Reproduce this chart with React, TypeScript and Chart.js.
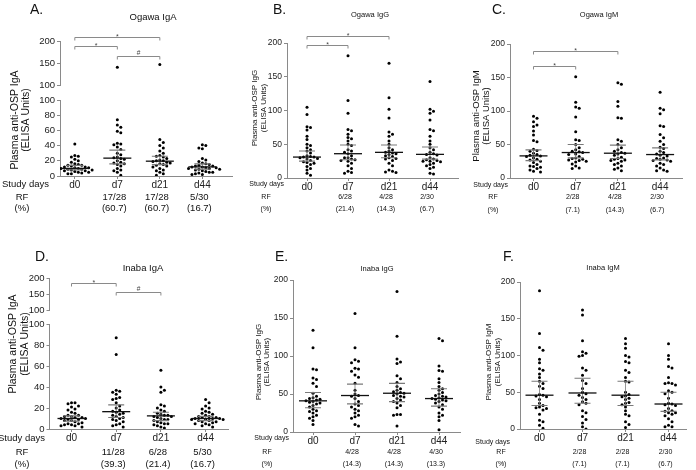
import React, { useEffect, useRef } from 'react';
import { Chart, registerables } from 'chart.js';
Chart.register(...registerables);

const FONT = "'Liberation Sans', Arial, Helvetica, sans-serif";
const categories = ['d0', 'd7', 'd21', 'd44'];

// ---- Ogawa IgA (A)
const ogawaIgA = [
  [42, 27, 26, 25, 22, 20, 18, 16, 15, 14, 14, 13, 12, 12, 11, 11, 10, 10, 9, 9, 8, 8, 7, 7, 6, 5, 5, 4, 3, 3],
  [141, 74, 67, 64, 59, 57, 43, 42, 41, 38, 35, 30, 28, 25, 24, 23, 22, 20, 18, 17, 16, 15, 13, 10, 8, 7, 5, 1],
  [147, 48, 44, 40, 37, 33, 30, 27, 26, 25, 23, 21, 20, 20, 19, 18, 17, 16, 15, 14, 13, 12, 10, 8, 7, 5, 3, 1],
  [41, 40, 37, 36, 23, 21, 19, 17, 16, 15, 14, 13, 13, 12, 12, 11, 11, 10, 10, 9, 9, 8, 7, 6, 5, 5, 4, 3, 2, 2],
];
const ogawaIgA_median = [10, 23.5, 19.5, 12];
const ogawaIgA_ci = [[8, 14], [16, 34], [15, 26], [9, 16]];
const ogawaIgA_rf = ['', '17/28', '17/28', '5/30'];
const ogawaIgA_pct = ['', '(60.7)', '(60.7)', '(16.7)'];

// ---- Ogawa IgG (B)
const ogawaIgG = [
  [105, 94, 76, 75, 71, 62, 57, 50, 48, 45, 42, 40, 37, 33, 32, 31, 31, 30, 29, 28, 26, 24, 23, 22, 20, 17, 14, 12, 7, 4],
  [181, 115, 96, 72, 70, 65, 60, 58, 55, 50, 48, 42, 40, 38, 36, 33, 30, 30, 28, 27, 26, 25, 22, 18, 14, 10, 8, 7],
  [170, 119, 102, 89, 68, 65, 62, 55, 50, 45, 42, 40, 38, 37, 36, 35, 33, 32, 30, 29, 28, 26, 22, 18, 12, 10, 9, 8],
  [143, 102, 99, 96, 86, 72, 70, 62, 55, 50, 45, 42, 38, 36, 35, 34, 30, 28, 27, 26, 25, 25, 24, 22, 20, 18, 16, 14, 7, 6],
];
const ogawaIgG_median = [31, 36, 38, 35];
const ogawaIgG_ci = [[25, 40], [27, 49], [30, 49], [28, 46]];
const ogawaIgG_rf = ['', '6/28', '4/28', '2/30'];
const ogawaIgG_pct = ['', '(21.4)', '(14.3)', '(6.7)'];

// ---- Ogawa IgM (C)
const ogawaIgM = [
  [92, 89, 84, 79, 77, 70, 64, 56, 54, 43, 41, 40, 37, 35, 34, 33, 32, 30, 28, 27, 25, 23, 20, 18, 17, 16, 14, 12, 10, 9],
  [151, 113, 106, 104, 91, 69, 57, 56, 50, 45, 42, 40, 39, 38, 36, 35, 32, 30, 29, 28, 27, 26, 25, 24, 21, 18, 15, 14],
  [142, 140, 114, 107, 90, 89, 57, 55, 50, 45, 42, 40, 38, 37, 36, 34, 31, 29, 28, 27, 26, 25, 22, 20, 18, 15, 13, 11],
  [128, 104, 102, 96, 78, 77, 65, 60, 55, 50, 46, 44, 40, 38, 36, 34, 33, 30, 29, 28, 27, 26, 25, 22, 20, 18, 15, 12, 11, 10],
];
const ogawaIgM_median = [33, 38, 37, 35];
const ogawaIgM_ci = [[26, 42], [30, 50], [29, 49], [27, 45]];
const ogawaIgM_rf = ['', '2/28', '4/28', '2/30'];
const ogawaIgM_pct = ['', '(7.1)', '(14.3)', '(6.7)'];

// ---- Inaba IgA (D)
const inabaIgA = [
  [25, 25, 24, 22, 21, 19, 18, 16, 15, 13, 13, 12, 12, 11, 11, 10, 10, 9, 9, 8, 8, 7, 6, 5, 5, 4, 4, 3, 3, 2],
  [87, 71, 37, 36, 35, 33, 30, 29, 28, 25, 22, 20, 18, 17, 16, 15, 14, 13, 12, 11, 10, 9, 8, 7, 5, 4, 3, 2],
  [56, 40, 37, 35, 23, 22, 20, 18, 17, 15, 14, 13, 13, 12, 12, 11, 10, 9, 9, 8, 7, 6, 5, 5, 4, 3, 2, 1],
  [28, 25, 22, 20, 19, 17, 16, 15, 14, 13, 12, 12, 11, 11, 10, 10, 10, 9, 9, 9, 8, 8, 7, 7, 6, 5, 5, 4, 3, 2],
];
const inabaIgA_median = [10, 16.5, 12.5, 10];
const inabaIgA_ci = [[7.5, 12.5], [11, 23], [8, 16], [8, 12]];
const inabaIgA_rf = ['', '11/28', '6/28', '5/30'];
const inabaIgA_pct = ['', '(39.3)', '(21.4)', '(16.7)'];

// ---- Inaba IgG (E)
const inabaIgG = [
  [134, 111, 83, 82, 71, 69, 64, 60, 51, 47, 45, 44, 43, 42, 41, 40, 39, 38, 37, 35, 33, 30, 28, 27, 25, 22, 20, 18, 15, 10],
  [156, 111, 95, 93, 91, 84, 83, 80, 75, 72, 64, 55, 50, 48, 47, 44, 40, 37, 35, 33, 30, 28, 25, 22, 20, 18, 10, 8],
  [185, 126, 96, 92, 90, 74, 70, 65, 60, 57, 55, 53, 52, 51, 50, 48, 47, 46, 44, 42, 40, 38, 35, 32, 23, 23, 22, 8],
  [123, 120, 87, 81, 80, 70, 65, 60, 57, 55, 52, 50, 48, 47, 46, 45, 44, 43, 42, 41, 40, 38, 36, 33, 30, 25, 22, 20, 15, 3],
];
const inabaIgG_median = [41, 48, 51, 44];
const inabaIgG_ci = [[32, 52], [37, 63], [40, 64], [34, 57]];
const inabaIgG_rf = ['', '4/28', '4/28', '4/30'];
const inabaIgG_pct = ['', '(14.3)', '(14.3)', '(13.3)'];

// ---- Inaba IgM (F)
const inabaIgM = [
  [188, 130, 111, 107, 95, 90, 82, 80, 75, 70, 65, 62, 58, 55, 47, 46, 45, 44, 40, 35, 32, 30, 29, 28, 26, 20, 12, 10, 5, 1],
  [162, 155, 120, 105, 103, 100, 99, 83, 80, 73, 66, 62, 55, 50, 48, 46, 43, 40, 37, 35, 33, 25, 22, 17, 13, 8, 3, 0],
  [123, 116, 110, 100, 98, 92, 90, 80, 77, 70, 65, 64, 50, 47, 45, 44, 42, 40, 36, 35, 33, 30, 25, 20, 18, 10, 6, 2],
  [116, 100, 95, 85, 83, 70, 63, 62, 62, 60, 52, 50, 48, 42, 35, 34, 33, 32, 28, 25, 24, 22, 22, 20, 18, 14, 10, 5, 3, 3],
];
const inabaIgM_median = [46, 49, 46, 34];
const inabaIgM_ci = [[32, 65], [35, 69], [32, 65], [24, 50]];
const inabaIgM_rf = ['', '2/28', '2/28', '2/30'];
const inabaIgM_pct = ['', '(7.1)', '(7.1)', '(6.7)'];

// significance brackets: [from, to, label, value on upper scale]
const ogawaIgA_brackets: [number, number, string, number][] = [[0, 2, '*', 210], [0, 1, '*', 189], [1, 2, '#', 167]];
const ogawaIgG_brackets: [number, number, string, number][] = [[0, 2, '*', 210], [0, 1, '*', 197]];
const ogawaIgM_brackets: [number, number, string, number][] = [[0, 2, '*', 190], [0, 1, '*', 167]];
const inabaIgA_brackets: [number, number, string, number][] = [[0, 1, '*', 184], [1, 2, '#', 156]];

const bigF = { tick: 9.5, cat: 10, rf: 9.5, title: 9.5, yt: 10.5 };
const smallF = { tick: 8.5, cat: 10, rf: 7, title: 7.5, yt: 8 };

interface Panel {
  box: number[];
  area: { l: number; r: number; t: number; b: number; bt?: number; bb?: number };
  x0: number; sp: number;
  broken: boolean;
  groups: number[][]; median: number[]; ci: number[][];
  brackets: [number, number, string, number][];
  rf: string[]; pct: string[];
  letter: string; letterPos: number[];
  title: string; titlePos: number[];
  yTitle: string; yTitlePos: number[];
  studyPos: number[]; rfPos: number[];
  f: typeof bigF;
}

const panels: Panel[] = [
  {
    box: [0, 0, 236, 235], area: { l: 60, r: 234, t: 41, b: 176, bt: 85.5, bb: 100 }, x0: 75, sp: 43, broken: true,
    groups: ogawaIgA, median: ogawaIgA_median, ci: ogawaIgA_ci, brackets: ogawaIgA_brackets, rf: ogawaIgA_rf, pct: ogawaIgA_pct,
    letter: 'A.', letterPos: [30, 10], title: 'Ogawa IgA', titlePos: [153, 17], yTitle: 'Plasma anti-OSP IgA', yTitlePos: [15, 26, 120],
    studyPos: [49, 184], rfPos: [22, 197, 208], f: bigF,
  },
  {
    box: [232, 0, 236, 235], area: { l: 287, r: 458, t: 43, b: 178 }, x0: 307, sp: 41, broken: false,
    groups: ogawaIgG, median: ogawaIgG_median, ci: ogawaIgG_ci, brackets: ogawaIgG_brackets, rf: ogawaIgG_rf, pct: ogawaIgG_pct,
    letter: 'B.', letterPos: [273, 10], title: 'Ogawa IgG', titlePos: [370, 15], yTitle: 'Plasma anti-OSP IgG', yTitlePos: [255, 264, 108],
    studyPos: [284, 184], rfPos: [266, 197, 209], f: smallF,
  },
  {
    box: [464, 0, 232, 235], area: { l: 510, r: 682, t: 44, b: 178 }, x0: 533.5, sp: 42.2, broken: false,
    groups: ogawaIgM, median: ogawaIgM_median, ci: ogawaIgM_ci, brackets: ogawaIgM_brackets, rf: ogawaIgM_rf, pct: ogawaIgM_pct,
    letter: 'C.', letterPos: [492, 10], title: 'Ogawa IgM', titlePos: [599, 15], yTitle: 'Plasma anti-OSP IgM', yTitlePos: [476, 486, 116],
    studyPos: [508, 185], rfPos: [493, 197, 210], f: { ...smallF, yt: 9.5 },
  },
  {
    box: [0, 235, 236, 235], area: { l: 49.5, r: 228, t: 278, b: 429, bt: 310, bb: 324 }, x0: 71.5, sp: 44.7, broken: true,
    groups: inabaIgA, median: inabaIgA_median, ci: inabaIgA_ci, brackets: inabaIgA_brackets, rf: inabaIgA_rf, pct: inabaIgA_pct,
    letter: 'D.', letterPos: [35, 257], title: 'Inaba IgA', titlePos: [143, 268], yTitle: 'Plasma anti-OSP IgA', yTitlePos: [13, 25, 344],
    studyPos: [45, 438], rfPos: [22, 452, 464], f: bigF,
  },
  {
    box: [232, 235, 236, 235], area: { l: 293, r: 460, t: 280, b: 432 }, x0: 313, sp: 42, broken: false,
    groups: inabaIgG, median: inabaIgG_median, ci: inabaIgG_ci, brackets: [], rf: inabaIgG_rf, pct: inabaIgG_pct,
    letter: 'E.', letterPos: [275, 257], title: 'Inaba IgG', titlePos: [377, 269], yTitle: 'Plasma anti-OSP IgG', yTitlePos: [259, 267, 362],
    studyPos: [289, 438], rfPos: [267, 452, 464], f: smallF,
  },
  {
    box: [464, 235, 232, 235], area: { l: 520, r: 686, t: 282, b: 429 }, x0: 539.5, sp: 43, broken: false,
    groups: inabaIgM, median: inabaIgM_median, ci: inabaIgM_ci, brackets: [], rf: inabaIgM_rf, pct: inabaIgM_pct,
    letter: 'F.', letterPos: [503, 257], title: 'Inaba IgM', titlePos: [603, 268], yTitle: 'Plasma anti-OSP IgM', yTitlePos: [489, 498, 362],
    studyPos: [510, 442], rfPos: [501, 452, 464], f: smallF,
  },
];

const Y_W = 30;
const X_H = 14;
const DOT = 3.5;

function valueToPx(p: Panel, v: number) {
  const a = p.area;
  if (p.broken) {
    if (v > 100) return a.t + ((200 - v) * ((a.bt as number) - a.t)) / 100;
    return a.b - (v * (a.b - (a.bb as number))) / 100;
  }
  return a.b - (v * (a.b - a.t)) / 200;
}

function swarm(p: Panel, values: number[]): number[] {
  const order = values.map((_, i) => i).sort((a, b) => values[b] - values[a]);
  const placed: { x: number; y: number }[] = [];
  const off = new Array(values.length).fill(0);
  for (const i of order) {
    const y = valueToPx(p, values[i]);
    for (let k = 0; k < 60; k++) {
      const cand = k === 0 ? 0 : (k % 2 === 1 ? 1 : -1) * Math.ceil(k / 2) * DOT;
      if (placed.every((q) => (q.x - cand) ** 2 + (q.y - y) ** 2 >= DOT * DOT * 0.92)) {
        off[i] = cand / p.sp;
        placed.push({ x: cand, y });
        break;
      }
    }
  }
  return off;
}

function makeChart(canvas: HTMLCanvasElement, p: Panel) {
  const [bx, by, bw, bh] = p.box;
  const a = p.area;
  const xMin = -(p.x0 - a.l) / p.sp;
  const xMax = (a.r - p.x0) / p.sp;
  const low: { x: number; y: number }[] = [];
  const high: { x: number; y: number }[] = [];
  p.groups.forEach((g, gi) => {
    const off = swarm(p, g);
    g.forEach((v, i) => {
      const pt = { x: gi + off[i], y: v };
      if (p.broken && v > 100) high.push(pt);
      else low.push(pt);
    });
  });
  const axisColor = '#8a8a8a';
  const fit = (s: any) => { s.width = Y_W; };
  const yCommon = (min: number, max: number, step: number) => ({
    type: 'linear' as const,
    position: 'left' as const,
    min, max,
    ticks: { stepSize: step, autoSkip: false, font: { family: FONT, size: p.f.tick }, color: '#222', padding: 2 },
    grid: { drawOnChartArea: false, drawTicks: true, tickLength: 3, color: axisColor },
    border: { color: axisColor, width: 1 },
    afterFit: fit,
  });
  const scales: any = {
    x: {
      type: 'linear', min: xMin, max: xMax,
      afterBuildTicks: (s: any) => { s.ticks = categories.map((_, i) => ({ value: i })); },
      ticks: { callback: (v: any) => categories[v] ?? '', font: { family: FONT, size: p.f.cat }, color: '#222', padding: 0, maxRotation: 0, autoSkip: false },
      grid: { drawOnChartArea: false, drawTicks: true, tickLength: 3, color: axisColor },
      border: { color: axisColor, width: 1 },
      afterFit: (s: any) => { s.height = X_H; },
    },
  };
  const datasets: any[] = [];
  if (p.broken) {
    scales.yBot = { ...yCommon(0, 100, 20), stack: 'brk', stackWeight: a.b - (a.bb as number) };
    scales.yGap = {
      type: 'linear', position: 'left', min: 0, max: 1, stack: 'brk', stackWeight: (a.bb as number) - (a.bt as number),
      ticks: { display: false }, grid: { display: false }, border: { display: false }, afterFit: fit,
    };
    scales.yTop = { ...yCommon(100, 200, 50), stack: 'brk', stackWeight: (a.bt as number) - a.t };
    datasets.push({ data: low, yAxisID: 'yBot' });
    datasets.push({ data: high, yAxisID: 'yTop' });
  } else {
    scales.y = yCommon(0, 200, 50);
    datasets.push({ data: low, yAxisID: 'y' });
  }
  datasets.forEach((d) => {
    d.pointRadius = 1.5; d.pointBackgroundColor = '#000'; d.pointBorderWidth = 0;
  });

  const yPix = (chart: any, v: number) => {
    if (p.broken) return v > 100 ? chart.scales.yTop.getPixelForValue(v) : chart.scales.yBot.getPixelForValue(v);
    return chart.scales.y.getPixelForValue(v);
  };
  const topScale = (chart: any) => (p.broken ? chart.scales.yTop : chart.scales.y);

  const annot = {
    id: 'annot',
    afterDatasetsDraw(chart: any) {
      const ctx = chart.ctx;
      const xs = chart.scales.x;
      ctx.save();
      p.median.forEach((m, i) => {
        const x = xs.getPixelForValue(i);
        const [lo, hi] = p.ci[i];
        const yl = yPix(chart, lo), yh = yPix(chart, hi), ym = yPix(chart, m);
        ctx.strokeStyle = '#7a7a7a';
        ctx.lineWidth = 0.8;
        ctx.beginPath(); ctx.moveTo(x, yl); ctx.lineTo(x, yh); ctx.stroke();
        ctx.lineWidth = 1.1;
        ctx.beginPath(); ctx.moveTo(x - 8, yl); ctx.lineTo(x + 8, yl); ctx.moveTo(x - 8, yh); ctx.lineTo(x + 8, yh); ctx.stroke();
        ctx.strokeStyle = '#111';
        ctx.lineWidth = 1.3;
        ctx.beginPath(); ctx.moveTo(x - 14, ym); ctx.lineTo(x + 14, ym); ctx.stroke();
      });
      const ts = topScale(chart);
      p.brackets.forEach(([f, t, lab, v]) => {
        const x1 = xs.getPixelForValue(f), x2 = xs.getPixelForValue(t);
        const y = Math.round(ts.getPixelForValue(v)) + 0.5;
        ctx.strokeStyle = '#8a8a8a';
        ctx.lineWidth = 1;
        ctx.beginPath();
        ctx.moveTo(x1, y + 3); ctx.lineTo(x1, y); ctx.lineTo(x2, y); ctx.lineTo(x2, y + 3);
        ctx.stroke();
        ctx.fillStyle = '#444';
        ctx.font = `${lab === '#' ? 6.5 : 7}px ${FONT}`;
        ctx.textAlign = 'center';
        ctx.textBaseline = 'alphabetic';
        ctx.fillText(lab, (x1 + x2) / 2, y - (lab === '#' ? 1.5 : -1));
      });
      ctx.restore();
    },
    afterDraw(chart: any) {
      const ctx = chart.ctx;
      const xs = chart.scales.x;
      ctx.save();
      ctx.fillStyle = '#111';
      ctx.textBaseline = 'middle';
      ctx.font = `14px ${FONT}`;
      ctx.textAlign = 'left';
      ctx.fillText(p.letter, p.letterPos[0] - bx, p.letterPos[1] - by);
      ctx.font = `${p.f.title}px ${FONT}`;
      ctx.textAlign = 'center';
      ctx.fillText(p.title, p.titlePos[0] - bx, p.titlePos[1] - by);
      ctx.save();
      ctx.font = `${p.f.yt}px ${FONT}`;
      ctx.translate(0, p.yTitlePos[2] - by);
      ctx.rotate(-Math.PI / 2);
      ctx.textAlign = 'center';
      ctx.fillText(p.yTitle, 0, p.yTitlePos[0] - bx);
      ctx.fillText('(ELISA Units)', 0, p.yTitlePos[1] - bx);
      ctx.restore();
      ctx.font = `${p.f.rf}px ${FONT}`;
      ctx.textAlign = 'right';
      ctx.fillText('Study days', p.studyPos[0] - bx, p.studyPos[1] - by);
      ctx.textAlign = 'center';
      ctx.fillText('RF', p.rfPos[0] - bx, p.rfPos[1] - by);
      ctx.fillText('(%)', p.rfPos[0] - bx, p.rfPos[2] - by);
      p.rf.forEach((s, i) => {
        const x = xs.getPixelForValue(i) - 3;
        if (s) ctx.fillText(s, x, p.rfPos[1] - by);
        if (p.pct[i]) ctx.fillText(p.pct[i], x, p.rfPos[2] - by);
      });
      ctx.restore();
    },
  };

  return new Chart(canvas, {
    type: 'scatter',
    data: { datasets },
    options: {
      animation: false,
      responsive: false,
      devicePixelRatio: 1,
      events: [],
      layout: {
        padding: {
          left: a.l - bx - Y_W,
          top: a.t - by,
          right: bx + bw - a.r,
          bottom: by + bh - a.b - X_H,
        },
      },
      plugins: { legend: { display: false }, tooltip: { enabled: false } },
      scales,
    },
    plugins: [annot],
  });
}

function PanelCanvas({ p }: { p: Panel }) {
  const ref = useRef<HTMLCanvasElement | null>(null);
  useEffect(() => {
    if (!ref.current) return;
    const c = makeChart(ref.current, p);
    return () => c.destroy();
  }, [p]);
  const [x, y, w, h] = p.box;
  return (
    <canvas
      ref={ref}
      width={w}
      height={h}
      style={{ position: 'absolute', left: x, top: y, width: w, height: h }}
    />
  );
}

export default function App() {
  return (
    <div style={{ position: 'absolute', left: 0, top: 0, width: 696, height: 470, background: '#fff', overflow: 'hidden' }}>
      {panels.map((p, i) => (
        <PanelCanvas key={i} p={p} />
      ))}
    </div>
  );
}
